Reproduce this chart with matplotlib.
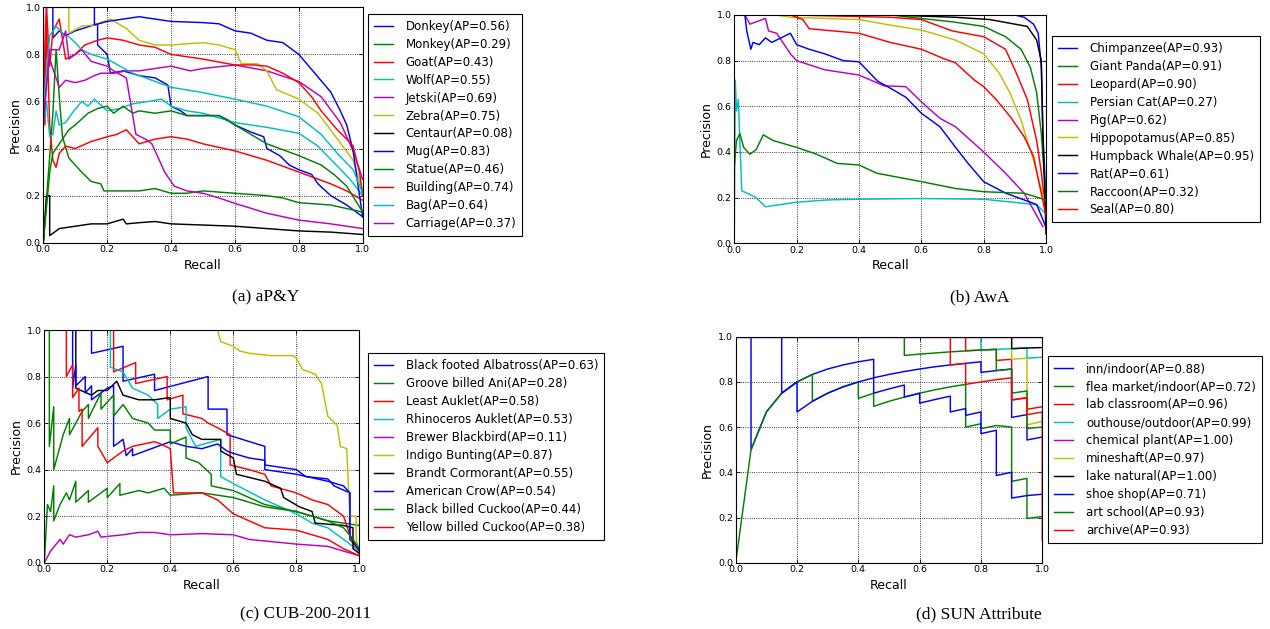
import matplotlib
matplotlib.use('Agg')
import matplotlib.pyplot as plt

W, H = 1270, 629
colors = ['b', 'g', 'r', 'c', 'm', 'y', 'k']
classic = {'b': (0, 0, 1), 'g': (0, 0.5, 0), 'r': (1, 0, 0), 'c': (0, 0.75, 0.75),
           'm': (0.75, 0, 0.75), 'y': (0.75, 0.75, 0), 'k': (0, 0, 0)}

# ---------------- (a) aP&Y : (recall, precision)
apy_labels = ['Donkey(AP=0.56)', 'Monkey(AP=0.29)', 'Goat(AP=0.43)', 'Wolf(AP=0.55)',
              'Jetski(AP=0.69)', 'Zebra(AP=0.75)', 'Centaur(AP=0.08)', 'Mug(AP=0.83)',
              'Statue(AP=0.46)', 'Building(AP=0.74)', 'Bag(AP=0.64)', 'Carriage(AP=0.37)']
donkey = [(0.0, 0.5), (0.01, 1.0), (0.03, 1.0), (0.03, 0.87), (0.05, 0.9), (0.07, 0.88), (0.1, 0.9),
          (0.17, 0.93), (0.17, 0.84), (0.2, 0.8), (0.21, 0.72), (0.25, 0.73), (0.3, 0.71), (0.35, 0.7),
          (0.39, 0.67), (0.4, 0.58), (0.43, 0.56), (0.45, 0.54), (0.55, 0.54), (0.58, 0.52), (0.6, 0.5),
          (0.65, 0.47), (0.69, 0.45), (0.7, 0.4), (0.74, 0.37), (0.77, 0.33), (0.8, 0.31), (0.84, 0.29),
          (0.86, 0.25), (0.9, 0.2), (0.95, 0.16), (1.0, 0.11)]
monkey = [(0.0, 0.0), (0.03, 0.55), (0.04, 0.82), (0.05, 0.62), (0.06, 0.45), (0.08, 0.36), (0.1, 0.33),
          (0.12, 0.3), (0.15, 0.26), (0.18, 0.25), (0.19, 0.22), (0.25, 0.22), (0.3, 0.22), (0.35, 0.23),
          (0.4, 0.21), (0.45, 0.21), (0.5, 0.22), (0.6, 0.21), (0.7, 0.2), (0.75, 0.19), (0.8, 0.17),
          (0.9, 0.16), (1.0, 0.13)]
goat = [(0.0, 1.0), (0.005, 0.5), (0.01, 0.93), (0.02, 0.5), (0.03, 0.35), (0.04, 0.32), (0.05, 0.38),
        (0.07, 0.41), (0.1, 0.4), (0.15, 0.43), (0.2, 0.45), (0.23, 0.46), (0.26, 0.48), (0.28, 0.45),
        (0.3, 0.42), (0.35, 0.44), (0.4, 0.45), (0.45, 0.44), (0.5, 0.42), (0.6, 0.39), (0.7, 0.35),
        (0.8, 0.3), (0.9, 0.25), (0.95, 0.22), (1.0, 0.18)]
wolf = [(0.0, 0.5), (0.01, 0.6), (0.02, 0.45), (0.03, 0.46), (0.04, 0.56), (0.05, 0.5), (0.07, 0.51),
        (0.09, 0.55), (0.12, 0.6), (0.14, 0.58), (0.16, 0.61), (0.2, 0.56), (0.24, 0.57), (0.28, 0.59),
        (0.33, 0.6), (0.37, 0.61), (0.4, 0.58), (0.45, 0.56), (0.5, 0.55), (0.6, 0.51), (0.7, 0.49),
        (0.8, 0.465), (0.86, 0.41), (0.91, 0.34), (0.96, 0.27), (1.0, 0.2)]
jetski = [(0.0, 0.6), (0.02, 0.78), (0.04, 0.7), (0.05, 0.66), (0.07, 0.69), (0.1, 0.68), (0.13, 0.69),
          (0.16, 0.71), (0.18, 0.72), (0.22, 0.72), (0.26, 0.73), (0.3, 0.73), (0.35, 0.74), (0.4, 0.75),
          (0.46, 0.73), (0.5, 0.74), (0.6, 0.755), (0.7, 0.73), (0.8, 0.685), (0.87, 0.62), (0.93, 0.51),
          (0.97, 0.39), (1.0, 0.27)]
zebra = [(0.0, 1.0), (0.08, 1.0), (0.08, 0.89), (0.12, 0.92), (0.16, 0.925), (0.21, 0.95), (0.26, 0.91),
         (0.3, 0.86), (0.35, 0.84), (0.4, 0.84), (0.5, 0.85), (0.55, 0.84), (0.6, 0.82), (0.62, 0.76),
         (0.67, 0.76), (0.7, 0.73), (0.73, 0.65), (0.8, 0.61), (0.86, 0.55), (0.91, 0.46), (0.97, 0.35),
         (1.0, 0.22)]
centaur = [(0.0, 0.0), (0.01, 0.2), (0.02, 0.2), (0.02, 0.03), (0.05, 0.06), (0.1, 0.07), (0.15, 0.08),
           (0.2, 0.08), (0.25, 0.1), (0.26, 0.08), (0.3, 0.085), (0.35, 0.09), (0.4, 0.08), (0.5, 0.075),
           (0.6, 0.07), (0.7, 0.06), (0.8, 0.05), (0.9, 0.045), (1.0, 0.035)]
mug = [(0.0, 1.0), (0.16, 1.0), (0.16, 0.925), (0.2, 0.94), (0.3, 0.96), (0.4, 0.94), (0.5, 0.935),
       (0.55, 0.93), (0.6, 0.9), (0.65, 0.89), (0.7, 0.86), (0.75, 0.85), (0.8, 0.8), (0.85, 0.72),
       (0.9, 0.64), (0.93, 0.56), (0.95, 0.5), (0.97, 0.39), (0.99, 0.2), (1.0, 0.11)]
statue = [(0.0, 0.0), (0.02, 0.3), (0.03, 0.38), (0.05, 0.42), (0.08, 0.48), (0.1, 0.5), (0.14, 0.55),
          (0.17, 0.57), (0.2, 0.58), (0.22, 0.55), (0.25, 0.58), (0.28, 0.55), (0.3, 0.56), (0.35, 0.55),
          (0.4, 0.56), (0.45, 0.54), (0.55, 0.54), (0.6, 0.5), (0.65, 0.46), (0.7, 0.42), (0.8, 0.37),
          (0.87, 0.33), (0.91, 0.29), (0.95, 0.24), (1.0, 0.13)]
building = [(0.0, 0.5), (0.01, 1.0), (0.02, 0.75), (0.03, 0.9), (0.05, 0.95), (0.07, 0.78), (0.1, 0.8),
            (0.13, 0.84), (0.17, 0.86), (0.2, 0.87), (0.25, 0.86), (0.3, 0.84), (0.35, 0.83), (0.4, 0.8),
            (0.45, 0.79), (0.5, 0.78), (0.6, 0.755), (0.66, 0.755), (0.7, 0.75), (0.75, 0.72), (0.8, 0.68),
            (0.84, 0.62), (0.87, 0.56), (0.92, 0.48), (0.95, 0.44), (0.97, 0.41), (0.99, 0.3), (1.0, 0.2)]
bag = [(0.0, 0.58), (0.02, 0.88), (0.04, 0.92), (0.06, 0.89), (0.08, 0.875), (0.1, 0.85), (0.12, 0.82),
       (0.15, 0.8), (0.2, 0.78), (0.24, 0.75), (0.28, 0.72), (0.34, 0.69), (0.4, 0.66), (0.49, 0.64),
       (0.6, 0.61), (0.7, 0.58), (0.8, 0.535), (0.87, 0.46), (0.92, 0.38), (0.97, 0.31), (1.0, 0.21)]
carriage = [(0.0, 0.5), (0.02, 0.82), (0.05, 0.82), (0.07, 0.9), (0.08, 0.78), (0.12, 0.82), (0.15, 0.77),
            (0.2, 0.75), (0.22, 0.73), (0.26, 0.7), (0.27, 0.62), (0.29, 0.46), (0.32, 0.44), (0.34, 0.42),
            (0.38, 0.3), (0.41, 0.24), (0.45, 0.22), (0.5, 0.21), (0.55, 0.19), (0.6, 0.167), (0.7, 0.125),
            (0.8, 0.096), (0.9, 0.08), (1.0, 0.06)]
apy_curves = [donkey, monkey, goat, wolf, jetski, zebra, centaur, mug, statue, building, bag, carriage]

# ---------------- (b) AwA
awa_labels = ['Chimpanzee(AP=0.93)', 'Giant Panda(AP=0.91)', 'Leopard(AP=0.90)', 'Persian Cat(AP=0.27)',
              'Pig(AP=0.62)', 'Hippopotamus(AP=0.85)', 'Humpback Whale(AP=0.95)', 'Rat(AP=0.61)',
              'Raccoon(AP=0.32)', 'Seal(AP=0.80)']
chimpanzee = [(0.0, 1.0), (0.9, 1.0), (0.93, 0.99), (0.96, 0.96), (0.975, 0.92), (0.985, 0.77),
              (0.99, 0.48), (1.0, 0.19)]
giant_panda = [(0.0, 1.0), (0.5, 1.0), (0.6, 0.985), (0.7, 0.97), (0.8, 0.95), (0.87, 0.905), (0.92, 0.85),
               (0.95, 0.77), (0.97, 0.66), (0.985, 0.48), (1.0, 0.19)]
leopard = [(0.0, 1.0), (0.18, 1.0), (0.5, 0.99), (0.6, 0.98), (0.7, 0.93), (0.8, 0.905), (0.87, 0.85),
           (0.905, 0.745), (0.94, 0.63), (0.97, 0.45), (0.985, 0.31), (1.0, 0.12)]
persian_cat = [(0.0, 0.04), (0.003, 0.715), (0.007, 0.58), (0.013, 0.63), (0.018, 0.44), (0.024, 0.23),
               (0.04, 0.22), (0.07, 0.2), (0.1, 0.16), (0.2, 0.18), (0.3, 0.19), (0.4, 0.193), (0.6, 0.196),
               (0.8, 0.193), (0.93, 0.175), (0.97, 0.168), (1.0, 0.13)]
pig = [(0.0, 1.0), (0.034, 1.0), (0.05, 0.96), (0.1, 0.985), (0.11, 0.93), (0.136, 0.92), (0.18, 0.83),
       (0.2, 0.8), (0.29, 0.76), (0.4, 0.737), (0.48, 0.69), (0.55, 0.686), (0.6, 0.62), (0.66, 0.547),
       (0.71, 0.51), (0.8, 0.4), (0.87, 0.307), (0.93, 0.219), (0.96, 0.146), (0.99, 0.073)]
hippopotamus = [(0.0, 1.0), (0.136, 1.0), (0.18, 0.99), (0.4, 0.98), (0.5, 0.956), (0.6, 0.934), (0.71, 0.89),
                (0.8, 0.83), (0.85, 0.745), (0.885, 0.657), (0.92, 0.54), (0.94, 0.45), (0.96, 0.365),
                (0.98, 0.26), (1.0, 0.16)]
humpback_whale = [(0.0, 1.0), (0.5, 1.0), (0.71, 0.99), (0.82, 0.98), (0.9, 0.96), (0.94, 0.95),
                  (0.97, 0.89), (0.985, 0.8), (0.99, 0.48), (1.0, 0.04)]
rat = [(0.0, 1.0), (0.034, 1.0), (0.04, 0.93), (0.053, 0.85), (0.06, 0.88), (0.08, 0.87), (0.1, 0.9),
       (0.12, 0.88), (0.15, 0.9), (0.18, 0.92), (0.2, 0.87), (0.24, 0.85), (0.29, 0.83), (0.35, 0.8),
       (0.4, 0.795), (0.46, 0.71), (0.5, 0.68), (0.55, 0.64), (0.6, 0.57), (0.66, 0.51), (0.71, 0.42),
       (0.75, 0.35), (0.8, 0.27), (0.87, 0.22), (0.93, 0.19), (0.97, 0.17), (1.0, 0.07)]
raccoon = [(0.0, 0.336), (0.007, 0.45), (0.018, 0.48), (0.03, 0.42), (0.05, 0.39), (0.07, 0.41),
           (0.093, 0.475), (0.125, 0.45), (0.2, 0.42), (0.264, 0.39), (0.33, 0.35), (0.4, 0.343),
           (0.457, 0.307), (0.6, 0.27), (0.71, 0.24), (0.8, 0.226), (0.93, 0.219), (1.0, 0.19)]
seal = [(0.0, 1.0), (0.18, 1.0), (0.22, 0.98), (0.24, 0.94), (0.4, 0.92), (0.5, 0.88), (0.6, 0.85),
        (0.67, 0.81), (0.71, 0.79), (0.77, 0.715), (0.8, 0.686), (0.84, 0.63), (0.885, 0.555),
        (0.93, 0.467), (0.96, 0.38), (0.98, 0.25), (1.0, 0.12)]
awa_curves = [chimpanzee, giant_panda, leopard, persian_cat, pig, hippopotamus, humpback_whale, rat,
              raccoon, seal]

# ---------------- (c) CUB-200-2011
cub_labels = ['Black footed Albatross(AP=0.63)', 'Groove billed Ani(AP=0.28)', 'Least Auklet(AP=0.58)',
              'Rhinoceros Auklet(AP=0.53)', 'Brewer Blackbird(AP=0.11)', 'Indigo Bunting(AP=0.87)',
              'Brandt Cormorant(AP=0.55)', 'American Crow(AP=0.54)', 'Black billed Cuckoo(AP=0.44)',
              'Yellow billed Cuckoo(AP=0.38)']
albatross = [(0.0, 1.0), (0.15, 1.0), (0.15, 0.9), (0.25, 0.93), (0.25, 0.78), (0.35, 0.81), (0.35, 0.74),
             (0.52, 0.8), (0.52, 0.66), (0.58, 0.66), (0.58, 0.55), (0.7, 0.5), (0.7, 0.42), (0.8, 0.4),
             (0.83, 0.37), (0.9, 0.36), (0.92, 0.33), (0.97, 0.3), (0.97, 0.1), (0.99, 0.07), (1.0, 0.06)]
ani = [(0.0, 0.0), (0.01, 0.25), (0.02, 0.22), (0.03, 0.33), (0.03, 0.18), (0.05, 0.25), (0.07, 0.3),
       (0.08, 0.27), (0.1, 0.35), (0.1, 0.26), (0.14, 0.31), (0.14, 0.26), (0.17, 0.29), (0.2, 0.32),
       (0.2, 0.28), (0.24, 0.34), (0.24, 0.29), (0.3, 0.31), (0.33, 0.3), (0.38, 0.32), (0.4, 0.29),
       (0.5, 0.3), (0.55, 0.29), (0.6, 0.28), (0.7, 0.24), (0.8, 0.22), (0.9, 0.18), (0.95, 0.17),
       (1.0, 0.16)]
least_auklet = [(0.0, 1.0), (0.22, 1.0), (0.22, 0.82), (0.29, 0.86), (0.29, 0.77), (0.39, 0.8), (0.39, 0.7),
                (0.44, 0.72), (0.44, 0.64), (0.5, 0.62), (0.52, 0.6), (0.55, 0.58), (0.59, 0.55),
                (0.59, 0.42), (0.65, 0.4), (0.7, 0.38), (0.72, 0.33), (0.8, 0.3), (0.85, 0.27), (0.9, 0.25),
                (0.95, 0.2), (0.98, 0.08), (1.0, 0.05)]
rhino_auklet = [(0.0, 1.0), (0.21, 1.0), (0.21, 0.84), (0.25, 0.82), (0.28, 0.75), (0.33, 0.72), (0.36, 0.68),
                (0.36, 0.62), (0.4, 0.66), (0.45, 0.67), (0.45, 0.58), (0.48, 0.5), (0.56, 0.53),
                (0.56, 0.37), (0.6, 0.34), (0.7, 0.27), (0.8, 0.21), (0.85, 0.17), (0.9, 0.15), (0.95, 0.1),
                (0.98, 0.07), (1.0, 0.05)]
blackbird = [(0.0, 0.0), (0.02, 0.05), (0.05, 0.1), (0.06, 0.08), (0.08, 0.12), (0.1, 0.11), (0.14, 0.12),
             (0.17, 0.135), (0.18, 0.11), (0.25, 0.12), (0.3, 0.13), (0.35, 0.13), (0.4, 0.12), (0.5, 0.125),
             (0.6, 0.12), (0.65, 0.1), (0.8, 0.08), (0.9, 0.07), (0.95, 0.05), (1.0, 0.03)]
bunting = [(0.0, 1.0), (0.55, 1.0), (0.56, 0.95), (0.6, 0.93), (0.62, 0.91), (0.65, 0.9), (0.72, 0.89),
           (0.79, 0.89), (0.8, 0.88), (0.82, 0.83), (0.86, 0.81), (0.88, 0.77), (0.9, 0.63), (0.93, 0.59),
           (0.94, 0.5), (0.96, 0.49), (0.97, 0.2), (0.99, 0.2), (0.99, 0.1), (1.0, 0.05)]
cormorant = [(0.0, 1.0), (0.1, 1.0), (0.1, 0.75), (0.15, 0.72), (0.17, 0.74), (0.2, 0.74), (0.23, 0.78),
             (0.25, 0.72), (0.3, 0.7), (0.35, 0.7), (0.4, 0.71), (0.4, 0.62), (0.45, 0.6), (0.47, 0.55),
             (0.5, 0.53), (0.56, 0.53), (0.56, 0.48), (0.6, 0.45), (0.61, 0.38), (0.7, 0.35), (0.75, 0.32),
             (0.76, 0.28), (0.81, 0.24), (0.85, 0.22), (0.86, 0.17), (0.95, 0.16), (0.98, 0.15), (0.98, 0.06),
             (1.0, 0.04)]
crow = [(0.0, 1.0), (0.09, 1.0), (0.09, 0.75), (0.1, 0.85), (0.1, 0.76), (0.13, 0.8), (0.13, 0.73),
        (0.15, 0.76), (0.15, 0.7), (0.2, 0.75), (0.22, 0.76), (0.22, 0.5), (0.25, 0.53), (0.26, 0.46),
        (0.28, 0.49), (0.28, 0.46), (0.4, 0.52), (0.45, 0.5), (0.5, 0.49), (0.55, 0.51), (0.58, 0.48),
        (0.6, 0.47), (0.65, 0.45), (0.7, 0.44), (0.7, 0.4), (0.8, 0.38), (0.9, 0.35), (0.95, 0.33),
        (0.97, 0.3), (0.97, 0.12), (1.0, 0.05)]
bb_cuckoo = [(0.016, 1.0), (0.016, 0.5), (0.03, 0.67), (0.03, 0.4), (0.06, 0.55), (0.08, 0.62), (0.08, 0.55),
             (0.12, 0.65), (0.14, 0.68), (0.14, 0.62), (0.18, 0.73), (0.18, 0.66), (0.22, 0.72), (0.22, 0.63),
             (0.25, 0.68), (0.28, 0.62), (0.33, 0.6), (0.35, 0.57), (0.4, 0.57), (0.4, 0.51), (0.45, 0.54),
             (0.45, 0.45), (0.49, 0.43), (0.53, 0.38), (0.53, 0.33), (0.6, 0.31), (0.7, 0.25), (0.8, 0.22),
             (0.9, 0.18), (0.95, 0.15), (0.98, 0.1), (1.0, 0.06)]
yb_cuckoo = [(0.0, 1.0), (0.07, 1.0), (0.07, 0.8), (0.09, 0.85), (0.09, 0.71), (0.11, 0.75), (0.11, 0.65),
             (0.12, 0.66), (0.12, 0.5), (0.17, 0.58), (0.17, 0.5), (0.2, 0.43), (0.23, 0.46), (0.25, 0.48),
             (0.28, 0.5), (0.35, 0.52), (0.37, 0.51), (0.4, 0.49), (0.41, 0.3), (0.5, 0.3), (0.55, 0.27),
             (0.6, 0.21), (0.7, 0.15), (0.8, 0.14), (0.9, 0.1), (0.95, 0.06), (1.0, 0.03)]
cub_curves = [albatross, ani, least_auklet, rhino_auklet, blackbird, bunting, cormorant, crow,
              bb_cuckoo, yb_cuckoo]

# ---------------- (d) SUN Attribute
sun_labels = ['inn/indoor(AP=0.88)', 'flea market/indoor(AP=0.72)', 'lab classroom(AP=0.96)',
              'outhouse/outdoor(AP=0.99)', 'chemical plant(AP=1.00)', 'mineshaft(AP=0.97)',
              'lake natural(AP=1.00)', 'shoe shop(AP=0.71)', 'art school(AP=0.93)', 'archive(AP=0.93)']
inn = [(0.0, 1.0), (0.05, 1.0), (0.05, 0.5), (0.1, 0.667), (0.15, 0.75), (0.2, 0.8), (0.25, 0.833),
       (0.3, 0.857), (0.35, 0.875), (0.4, 0.889), (0.45, 0.9), (0.45, 0.818), (0.5, 0.833), (0.55, 0.846),
       (0.6, 0.857), (0.65, 0.867), (0.7, 0.875), (0.75, 0.882), (0.8, 0.889), (0.8, 0.842), (0.85, 0.85),
       (0.9, 0.857), (0.9, 0.643), (0.95, 0.655), (0.95, 0.543), (1.0, 0.556)]
flea_market = [(0.0, 0.0), (0.05, 0.5), (0.1, 0.667), (0.15, 0.75), (0.2, 0.8), (0.25, 0.833), (0.25, 0.714),
               (0.3, 0.75), (0.35, 0.778), (0.4, 0.8), (0.4, 0.727), (0.45, 0.75), (0.45, 0.692),
               (0.5, 0.714), (0.55, 0.733), (0.6, 0.75), (0.65, 0.765), (0.7, 0.778), (0.75, 0.789),
               (0.75, 0.6), (0.8, 0.615), (0.8, 0.593), (0.85, 0.607), (0.9, 0.6), (0.9, 0.36), (0.95, 0.373),
               (0.95, 0.196), (1.0, 0.204)]
lab_classroom = [(0.0, 1.0), (0.75, 1.0), (0.75, 0.938), (0.85, 0.944), (0.85, 0.895), (0.9, 0.9),
                 (0.9, 0.72), (0.95, 0.73), (0.95, 0.679), (1.0, 0.69)]
outhouse = [(0.0, 1.0), (0.8, 1.0), (0.8, 0.941), (0.85, 0.944), (0.9, 0.947), (0.95, 0.95), (0.95, 0.905),
            (1.0, 0.909)]
chemical_plant = [(0.0, 1.0), (1.0, 1.0)]
mineshaft = [(0.0, 1.0), (0.9, 1.0), (0.9, 0.9), (0.95, 0.905), (0.95, 0.61), (1.0, 0.625)]
lake_natural = [(0.0, 1.0), (0.9, 1.0), (0.9, 0.947), (0.95, 0.95), (1.0, 0.952)]
shoe_shop = [(0.0, 1.0), (0.15, 1.0), (0.15, 0.75), (0.2, 0.8), (0.2, 0.667), (0.25, 0.714), (0.3, 0.75),
             (0.35, 0.778), (0.4, 0.8), (0.45, 0.818), (0.45, 0.75), (0.5, 0.769), (0.55, 0.786),
             (0.55, 0.733), (0.6, 0.75), (0.6, 0.706), (0.65, 0.722), (0.7, 0.737), (0.7, 0.667),
             (0.75, 0.682), (0.75, 0.652), (0.8, 0.667), (0.8, 0.571), (0.85, 0.586), (0.85, 0.386),
             (0.9, 0.4), (0.9, 0.286), (0.95, 0.297), (1.0, 0.303)]
art_school = [(0.0, 1.0), (0.55, 1.0), (0.55, 0.917), (0.6, 0.923), (0.7, 0.933), (0.8, 0.941), (0.85, 0.944),
              (0.85, 0.85), (0.9, 0.857), (0.9, 0.75), (0.95, 0.76), (0.95, 0.594), (1.0, 0.6)]
archive = [(0.0, 1.0), (0.7, 1.0), (0.7, 0.875), (0.75, 0.882), (0.75, 0.789), (0.8, 0.8), (0.85, 0.81),
           (0.9, 0.818), (0.9, 0.72), (0.95, 0.73), (0.95, 0.655), (1.0, 0.667), (1.0, 0.1)]
sun_curves = [inn, flea_market, lab_classroom, outhouse, chemical_plant, mineshaft, lake_natural,
              shoe_shop, art_school, archive]

captions = ['(a) aP&Y', '(b) AwA', '(c) CUB-200-2011', '(d) SUN Attribute']

plt.rcParams['font.family'] = 'DejaVu Sans'
fig = plt.figure(figsize=(W / 100, H / 100), dpi=100)
fig.patch.set_facecolor('white')


def px_axes(x0, y0, x1, y1):
    return fig.add_axes([x0 / W, 1 - y1 / H, (x1 - x0) / W, (y1 - y0) / H])


def draw_panel(ax, curves, labels, gap):
    for i, (pts, lab) in enumerate(zip(curves, labels)):
        r = [p[0] for p in pts]
        p = [p[1] for p in pts]
        ax.plot(r, p, color=classic[colors[i % 7]], lw=1.05, label=lab)
    ax.set_xlim(0, 1)
    ax.set_ylim(0, 1)
    ax.set_xticks([0, 0.2, 0.4, 0.6, 0.8, 1.0])
    ax.set_yticks([0, 0.2, 0.4, 0.6, 0.8, 1.0])
    ax.grid(True, color='k', linestyle=':', linewidth=0.6)
    ax.tick_params(direction='in', top=True, right=True, length=3, width=0.6,
                   labelsize=6.8, pad=2)
    for s in ax.spines.values():
        s.set_linewidth(0.8)
    ax.set_xlabel('Recall', fontsize=9, labelpad=3)
    ax.set_ylabel('Precision', fontsize=9, labelpad=3)
    leg = ax.legend(loc='center left', bbox_to_anchor=(1 + gap, 0.5), borderaxespad=0,
                    fontsize=8.5, fancybox=False, framealpha=1, edgecolor='black',
                    handlelength=1.6, handletextpad=1.1, labelspacing=0.42, borderpad=0.5)
    leg.get_frame().set_linewidth(0.8)


ax_a = px_axes(43.3, 7.3, 362.7, 242.7)
draw_panel(ax_a, apy_curves, apy_labels, 0.016)
ax_b = px_axes(734.3, 15, 1046, 243.3)
draw_panel(ax_b, awa_curves, awa_labels, 0.019)
ax_c = px_axes(44.3, 330, 359.3, 562.7)
draw_panel(ax_c, cub_curves, cub_labels, 0.028)
ax_d = px_axes(735.7, 336.7, 1042.3, 562.7)
draw_panel(ax_d, sun_curves, sun_labels, 0.019)

cap_pos = [(266, 297), (980, 297), (306, 614), (979, 614)]
for txt, (cx, cy) in zip(captions, cap_pos):
    fig.text(cx / W, 1 - cy / H, txt, ha='center', va='center', fontsize=12.5,
             family='Liberation Serif')

fig.savefig('out.png', dpi=100)
